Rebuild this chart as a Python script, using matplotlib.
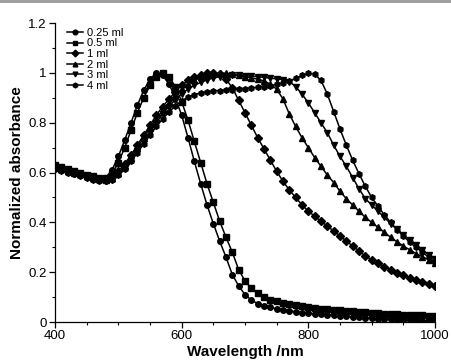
import numpy as np
import matplotlib
matplotlib.use("Agg")
import matplotlib.pyplot as plt
from matplotlib.patches import Rectangle
from matplotlib.ticker import MultipleLocator, FuncFormatter

plt.rcParams['font.family'] = ['Liberation Sans', 'DejaVu Sans']

# wavelength grid of the readings (nm)
wavelength = np.arange(400, 1001, 10)

labels = ["0.25 ml", "0.5 ml", "1 ml", "2 ml", "3 ml", "4 ml"]
markers = ["o", "s", "D", "^", "v", "h"]

ml_025 = [0.625, 0.619, 0.612, 0.605, 0.598, 0.591, 0.584, 0.578, 0.580, 0.610,
          0.665, 0.730, 0.800, 0.870, 0.930, 0.975, 1.000, 0.990, 0.955, 0.900,
          0.830, 0.740, 0.645, 0.555, 0.470, 0.395, 0.325, 0.260, 0.190, 0.145,
          0.110, 0.088, 0.074, 0.066, 0.059, 0.053, 0.049, 0.045, 0.041, 0.038,
          0.035, 0.033, 0.031, 0.029, 0.027, 0.025, 0.023, 0.021, 0.019, 0.017,
          0.015, 0.013, 0.012, 0.011, 0.010, 0.009, 0.008, 0.007, 0.006, 0.006,
          0.005]
ml_05 = [0.630, 0.623, 0.615, 0.607, 0.600, 0.592, 0.585, 0.579, 0.578, 0.595,
         0.640, 0.700, 0.770, 0.840, 0.900, 0.950, 0.985, 1.000, 0.985, 0.945,
         0.885, 0.810, 0.725, 0.640, 0.555, 0.480, 0.405, 0.340, 0.280, 0.210,
         0.165, 0.135, 0.115, 0.100, 0.090, 0.083, 0.077, 0.072, 0.068, 0.064,
         0.060, 0.057, 0.054, 0.052, 0.050, 0.048, 0.046, 0.044, 0.042, 0.040,
         0.037, 0.035, 0.033, 0.032, 0.031, 0.030, 0.029, 0.028, 0.027, 0.026,
         0.025]
ml_1 = [0.620, 0.614, 0.607, 0.600, 0.593, 0.586, 0.579, 0.573, 0.572, 0.582,
        0.605, 0.635, 0.670, 0.710, 0.750, 0.790, 0.830, 0.865, 0.895, 0.925,
        0.950, 0.970, 0.983, 0.993, 0.998, 1.000, 0.995, 0.975, 0.940, 0.890,
        0.840, 0.790, 0.740, 0.695, 0.650, 0.605, 0.565, 0.530, 0.500, 0.470,
        0.445, 0.425, 0.405, 0.385, 0.365, 0.345, 0.325, 0.305, 0.285, 0.265,
        0.250, 0.235, 0.222, 0.210, 0.198, 0.188, 0.178, 0.169, 0.161, 0.153,
        0.145]
ml_2 = [0.620, 0.614, 0.607, 0.600, 0.593, 0.586, 0.579, 0.573, 0.572, 0.580,
        0.600, 0.628, 0.660, 0.700, 0.740, 0.780, 0.815, 0.850, 0.880, 0.910,
        0.935, 0.955, 0.970, 0.982, 0.990, 0.996, 1.000, 0.998, 0.995, 0.990,
        0.985, 0.980, 0.975, 0.968, 0.955, 0.935, 0.895, 0.835, 0.785, 0.740,
        0.700, 0.660, 0.625, 0.590, 0.560, 0.525, 0.495, 0.470, 0.445, 0.420,
        0.400, 0.380, 0.360, 0.340, 0.322, 0.305, 0.290, 0.275, 0.262, 0.250,
        0.238]
ml_3 = [0.620, 0.614, 0.607, 0.600, 0.593, 0.586, 0.579, 0.573, 0.572, 0.578,
        0.595, 0.620, 0.650, 0.688, 0.725, 0.762, 0.800, 0.835, 0.865, 0.893,
        0.915, 0.935, 0.950, 0.962, 0.972, 0.980, 0.985, 0.988, 0.990, 0.990,
        0.989, 0.987, 0.985, 0.982, 0.979, 0.976, 0.973, 0.965, 0.945, 0.915,
        0.880, 0.840, 0.800, 0.760, 0.710, 0.665, 0.625, 0.580, 0.535, 0.495,
        0.470, 0.445, 0.420, 0.395, 0.372, 0.350, 0.330, 0.310, 0.290, 0.270,
        0.252]
ml_4 = [0.615, 0.608, 0.600, 0.593, 0.586, 0.579, 0.572, 0.566, 0.565, 0.572,
        0.590, 0.615, 0.645, 0.680, 0.715, 0.750, 0.785, 0.815, 0.843, 0.868,
        0.888, 0.903, 0.913, 0.920, 0.924, 0.927, 0.929, 0.931, 0.933, 0.935,
        0.937, 0.939, 0.942, 0.945, 0.949, 0.954, 0.960, 0.968, 0.978, 0.990,
        0.998, 0.995, 0.970, 0.915, 0.845, 0.775, 0.710, 0.650, 0.595, 0.545,
        0.500, 0.465, 0.430, 0.400, 0.370, 0.345, 0.320, 0.300, 0.280, 0.260,
        0.242]

series = [ml_025, ml_05, ml_1, ml_2, ml_3, ml_4]

fig = plt.figure(figsize=(4.51, 3.61), dpi=100)
ax = fig.add_axes([0.122, 0.108, 0.8425, 0.828])

for vals, lab, mk in zip(series, labels, markers):
    ax.plot(wavelength, vals, color="black", lw=1.1, marker=mk, ms=4,
            mec="black", mfc="black", label=lab)

ax.set_xlim(400, 1000)
ax.set_ylim(0, 1.2)
ax.xaxis.set_major_locator(MultipleLocator(200))
ax.xaxis.set_minor_locator(MultipleLocator(50))
ax.yaxis.set_major_locator(MultipleLocator(0.2))
ax.yaxis.set_minor_locator(MultipleLocator(0.1))
ax.yaxis.set_major_formatter(FuncFormatter(lambda v, p: f"{v:g}"))

for s in ["top", "right"]:
    ax.spines[s].set_visible(False)
for s in ["left", "bottom"]:
    ax.spines[s].set_linewidth(0.9)

ax.tick_params(which="major", direction="out", length=4, width=0.9, labelsize=9.5, pad=2)
ax.tick_params(which="minor", direction="out", length=2.5, width=0.8)

ax.set_xlabel("Wavelength /nm", fontsize=11, fontweight="bold", labelpad=2)
ax.set_ylabel("Normalized absorbance", fontsize=11, fontweight="bold", labelpad=3)

ax.legend(loc="upper left", bbox_to_anchor=(0.01, 1.01), frameon=False, fontsize=8,
          handlelength=1.5, handletextpad=0.35, labelspacing=0.05, borderaxespad=0.3,
          markerscale=0.85)

fig.patches.append(Rectangle((0, 1 - 3 / 361), 1, 3 / 361, transform=fig.transFigure,
                             facecolor="#a0a0a0", edgecolor="none"))

fig.savefig("out.png", dpi=100)
